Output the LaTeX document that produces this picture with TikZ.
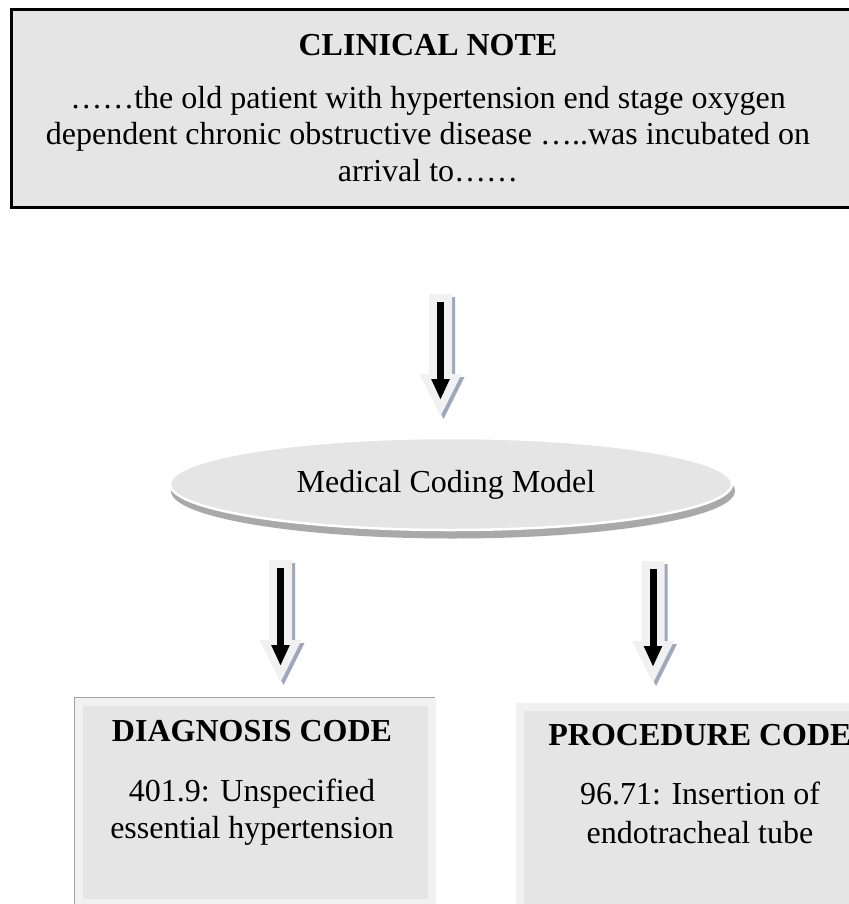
\documentclass[tikz,border=0pt]{standalone}
\usepackage{fontspec}
\setmainfont{Liberation Serif}
\usetikzlibrary{arrows.meta,shapes.geometric}
\definecolor{boxfill}{HTML}{E5E5E5}
\definecolor{rimlight}{HTML}{F1F1F1}
\definecolor{arrowshadow}{HTML}{9FA7BC}
\definecolor{boxshadow}{HTML}{A3A3A3}
\definecolor{ellshadow}{HTML}{A9A9A9}
\tikzset{
  txt/.style={font=\fontsize{32}{37}\selectfont, inner sep=0pt, anchor=base},
  ttl/.style={txt, font=\fontsize{32}{37}\selectfont\bfseries},
  notebox/.style={draw=black, line width=3pt, fill=boxfill},
  codebox/.style={draw=rimlight, line width=8pt, fill=boxfill},
  arrowbody/.style={fill=rimlight},
  arrowshade/.style={fill=arrowshadow},
  innerarrow/.style={line width=7pt, -{Triangle[width=17pt,length=21pt]}},
}
% #1 name, #2 cx, #3 top
\newcommand{\blockarrow}[3]{%
  \begin{scope}[shift={(#2,#3)}]
    \fill[arrowshade] (-11.5+3,0+3) -- (11.5+3,0+3) -- (11.5+3,80+3) -- (21+3,80+3)
      -- (0+3,122+3) -- (-21+3,80+3) -- (-11.5+3,80+3) -- cycle;
    \fill[arrowbody] (-11.5,0) -- (11.5,0) -- (11.5,80) -- (21,80)
      -- (0,122) -- (-21,80) -- (-11.5,80) -- cycle;
    \coordinate (#1s) at (0,8);
    \coordinate (#1e) at (0,106);
    \draw[innerarrow] (#1s) -- (#1e);
  \end{scope}}
\begin{document}
\begin{tikzpicture}[x=1pt,y=-1pt]
\useasboundingbox (0,0) rectangle (848,904);
\fill[white] (0,0) rectangle (848,904);
% clinical note
\node[notebox, minimum width=880pt, minimum height=197pt, anchor=north west, inner sep=0pt] (note) at (9.5,8.5) {};
\node[ttl] (notetitle) at (428,56) {CLINICAL NOTE};
\node[txt] (noteA) at (428,109) {……the old patient with hypertension end stage oxygen};
\node[txt] (noteB) at (428,145) {dependent chronic obstructive disease …..was incubated on};
\node[txt] (noteC) at (428,182) {arrival to……};
% arrow 1
\blockarrow{aone}{440.5}{294}
% ellipse
\fill[ellshadow] (453,491) ellipse [x radius=282, y radius=47.5];
\node[ellipse, draw=white, line width=2.5pt, fill=boxfill, minimum width=562pt, minimum height=92pt, inner sep=0pt] (model) at (451,484) {};
\node[txt] (modeltext) at (446,492) {Medical Coding Model};
% arrows 2 and 3
\blockarrow{atwo}{280.5}{560}
\blockarrow{athree}{653}{561}
% diagnosis box
\fill[boxshadow] (74,697) rectangle (435,910);
\node[codebox, minimum width=353pt, minimum height=201pt, anchor=north west, inner sep=0pt] (diag) at (75,698) {};
\node[ttl] (diagtitle) at (252,741) {DIAGNOSIS CODE};
\node[txt] (diagA) at (252,801) {401.9: Unspecified};
\node[txt] (diagB) at (252,838) {essential hypertension};
% procedure box
\node[codebox, minimum width=368pt, minimum height=220pt, anchor=north west, inner sep=0pt] (proc) at (516,703) {};
\node[ttl] (proctitle) at (700,745) {PROCEDURE CODE};
\node[txt] (procA) at (700,804) {96.71: Insertion of};
\node[txt] (procB) at (700,843) {endotracheal tube};
\end{tikzpicture}
\end{document}
